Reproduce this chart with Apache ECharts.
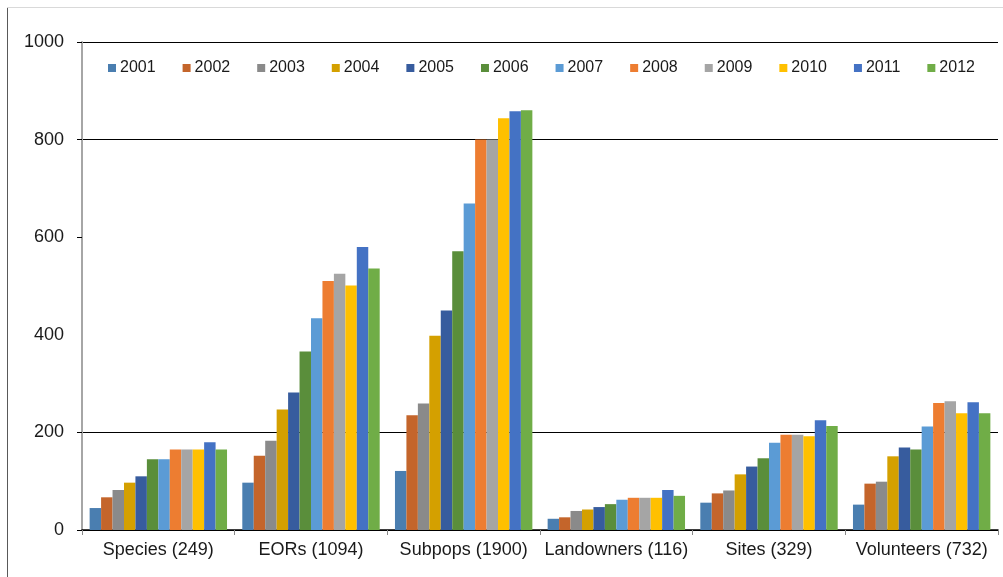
<!DOCTYPE html>
<html>
<head>
<meta charset="utf-8">
<script src="https://cdn.jsdelivr.net/npm/echarts@6/dist/echarts.min.js"></script>
<style>
  html, body { margin: 0; padding: 0; background: #fff; }
  #chart { width: 1003px; height: 577px; }
</style>
</head>
<body>
<div id="chart"></div>
<script>
// Categories (with totals) and yearly counts
const categories = ['Species (249)', 'EORs (1094)', 'Subpops (1900)', 'Landowners (116)', 'Sites (329)', 'Volunteers (732)'];
const years = ['2001', '2002', '2003', '2004', '2005', '2006', '2007', '2008', '2009', '2010', '2011', '2012'];

const v2001 = [45, 97, 121, 23, 56, 52];
const v2002 = [67, 152, 235, 26, 75, 95];
const v2003 = [82, 183, 259, 39, 81, 99];
const v2004 = [97, 247, 398, 42, 114, 151];
const v2005 = [110, 282, 450, 47, 130, 169];
const v2006 = [145, 366, 571, 53, 147, 165];
const v2007 = [145, 434, 669, 62, 179, 212];
const v2008 = [165, 510, 800, 66, 195, 260];
const v2009 = [165, 525, 800, 66, 195, 264];
const v2010 = [165, 501, 844, 66, 192, 239];
const v2011 = [180, 580, 858, 82, 225, 262];
const v2012 = [165, 536, 860, 70, 213, 239];

const seriesValues = [v2001, v2002, v2003, v2004, v2005, v2006, v2007, v2008, v2009, v2010, v2011, v2012];

const yTicks = [0, 200, 400, 600, 800, 1000];

const colors = ['#4A7EB0', '#C4652B', '#8A8A8A', '#D4A000', '#375C9E', '#5A8E3B',
                '#5B9BD5', '#ED7D31', '#A5A5A5', '#FFC000', '#4472C4', '#70AD47'];

const chart = echarts.init(document.getElementById('chart'), null, { renderer: 'canvas' });

const textFont = 'Arial, "Liberation Sans", sans-serif';

chart.setOption({
  animation: false,
  color: colors,
  textStyle: { fontFamily: textFont },
  legend: {
    data: years,
    left: 108,
    top: 60,
    padding: 0,
    itemGap: 27,
    itemWidth: 8,
    itemHeight: 8,
    icon: 'rect',
    textStyle: { fontSize: 16, color: '#1a1a1a', fontFamily: textFont, padding: [0, 0, 0, -1] }
  },
  grid: { left: 82, right: 5, top: 42, bottom: 47, containLabel: false },
  xAxis: {
    type: 'category',
    data: categories,
    axisLine: { show: true, lineStyle: { color: '#000', width: 1.5 } },
    axisTick: { show: true, length: 5, lineStyle: { color: '#888', width: 1 } },
    axisLabel: { interval: 0, fontSize: 18, color: '#1a1a1a', margin: 11, fontFamily: textFont }
  },
  yAxis: {
    type: 'value',
    min: 0,
    max: 1000,
    interval: 200,
    axisLine: { show: true, lineStyle: { color: '#A6A6A6', width: 2 } },
    axisTick: { show: true, length: 5, customValues: [0, 200, 600, 800, 1000], lineStyle: { color: '#000', width: 1 } },
    axisLabel: {
      fontSize: 18, color: '#1a1a1a', margin: 18, fontFamily: textFont,
      customValues: yTicks,
      formatter: (v) => String(v)
    },
    splitLine: {
      show: true,
      // one colour per tick: 0, 200, 400, 600, 800, 1000 (no rule at 400)
      lineStyle: { color: ['#000', '#000', 'rgba(0,0,0,0)', '#000', '#000', '#000'], width: 1 }
    }
  },
  graphic: [
    { type: 'line', silent: true, shape: { x1: 7.5, y1: 7, x2: 7.5, y2: 577 }, style: { stroke: '#595959', lineWidth: 1 } },
    { type: 'line', silent: true, shape: { x1: 7, y1: 7.5, x2: 1003, y2: 7.5 }, style: { stroke: '#D9D9D9', lineWidth: 1 } }
  ],
  series: years.map((y, i) => ({
    name: y,
    type: 'bar',
    data: seriesValues[i],
    barGap: '0%',
    barCategoryGap: '10%'
  }))
});
</script>
</body>
</html>
